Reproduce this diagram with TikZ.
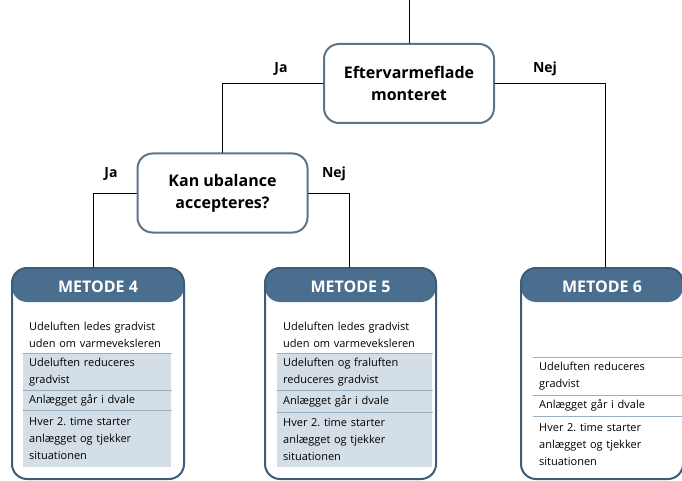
\documentclass[tikz,border=0pt]{standalone}
\usepackage{fontspec}
\setmainfont{Open Sans}
\usetikzlibrary{positioning}
\hyphenpenalty=10000
\definecolor{HeadBlue}{HTML}{4A6E8E}
\definecolor{EdgeBlue}{HTML}{3E5C78}
\definecolor{RowGrey}{HTML}{D4DEE7}
\definecolor{SepBlue}{HTML}{9CB0C2}
\tikzset{
	link/.style={black, line width=0.9pt},
	question/.style={draw=EdgeBlue!85, line width=2pt, rounded corners=15pt, fill=white,
		minimum width=170pt, minimum height=79pt, align=center,
		font=\fontsize{16}{22}\selectfont\bfseries},
	answer/.style={font=\fontsize{14}{16}\selectfont\bfseries},
	method/.style={draw=EdgeBlue, line width=2pt, rounded corners=15pt, fill=white,
		minimum height=211pt,
		path picture={\fill[HeadBlue] (path picture bounding box.north west) rectangle ([yshift=-34pt]path picture bounding box.north east);}},
	headtext/.style={white, font=\fontsize{16}{20}\selectfont\bfseries},
	row/.style={anchor=north west, inner xsep=6pt, inner ysep=0pt, align=left,
		font=\fontsize{11}{17}\selectfont},
	shaded/.style={fill=RowGrey},
	sep/.style={SepBlue, line width=1pt},
}

\begin{document}
\begin{tikzpicture}[x=1pt, y=-1pt, line cap=round, line join=round]
	\useasboundingbox (0,0) rectangle (682,481);
	
	% Questions
	\node[question] (q1) at (409,83.5) {Eftervarmeflade\\monteret};
	\node[question] (q2) at (222.5,193) {Kan ubalance\\accepteres?};
	
	% Methods
	\node[method, minimum width=172pt] (m4) at (98,373.5) {};
	\node[method, minimum width=171pt] (m5) at (350.5,373.5) {};
	\node[method, minimum width=162pt] (m6) at (602,373.5) {};
	\node[headtext] (h4) at (98,287) {METODE 4};
	\node[headtext] (h5) at (350.5,287) {METODE 5};
	\node[headtext] (h6) at (602,287) {METODE 6};
	
	% Connectors
	\coordinate (start) at (409,0);
	\draw[link] (start) -- (q1.north);
	\draw[link] (q1.west) -| (q2.north);
	\draw[link] (q1.east) -| ([xshift=3pt]m6.north);
	\draw[link] (q2.west) -| ([xshift=-5pt]m4.north);
	\draw[link] (q2.east) -| ([xshift=-1.5pt]m5.north);
	
	% Answers
	\node[answer] (ja1) at (281,69) {Ja};
	\node[answer] (nej1) at (545,69) {Nej};
	\node[answer] (ja2) at (111,174) {Ja};
	\node[answer] (nej2) at (334,174) {Nej};
	
	% Rows of METODE 4
	\node[row, text width=136pt, minimum height=36pt] (a1) at (23,317) {Udeluften ledes gradvist\\uden om varmeveksleren};
	\node[row, shaded, text width=136pt, minimum height=37pt] (a2) at (23,353) {Udeluften reduceres\\gradvist};
	\node[row, shaded, text width=136pt, minimum height=20pt] (a3) at (23,390) {Anlægget går i dvale};
	\node[row, shaded, text width=136pt, minimum height=57pt] (a4) at (23,410) {Hver 2.\ time starter\\anlægget og tjekker\\situationen};
	\draw[sep] (a2.north west) -- (a2.north east);
	\draw[sep] (a3.north west) -- (a3.north east);
	\draw[sep] (a4.north west) -- (a4.north east);
	
	% Rows of METODE 5
	\node[row, text width=143pt, minimum height=36pt] (b1) at (277,317) {Udeluften ledes gradvist\\uden om varmeveksleren};
	\node[row, shaded, text width=143pt, minimum height=37pt] (b2) at (277,353) {Udeluften og fraluften\\reduceres gradvist};
	\node[row, shaded, text width=143pt, minimum height=22pt] (b3) at (277,390) {Anlægget går i dvale};
	\node[row, shaded, text width=143pt, minimum height=55pt] (b4) at (277,412) {Hver 2.\ time starter\\anlægget og tjekker\\situationen};
	\draw[sep] (b2.north west) -- (b2.north east);
	\draw[sep] (b3.north west) -- (b3.north east);
	\draw[sep] (b4.north west) -- (b4.north east);
	
	% Rows of METODE 6
	\node[row, text width=138pt, minimum height=38pt] (c1) at (533,357) {Udeluften reduceres\\gradvist};
	\node[row, text width=138pt, minimum height=21pt] (c2) at (533,395) {Anlægget går i dvale};
	\node[row, text width=138pt, minimum height=57pt] (c3) at (533,416) {Hver 2.\ time starter\\anlægget og tjekker\\situationen};
	\draw[sep] (c1.north west) -- (c1.north east);
	\draw[sep] (c2.north west) -- (c2.north east);
	\draw[sep] (c3.north west) -- (c3.north east);
	
\end{tikzpicture}
\end{document}
